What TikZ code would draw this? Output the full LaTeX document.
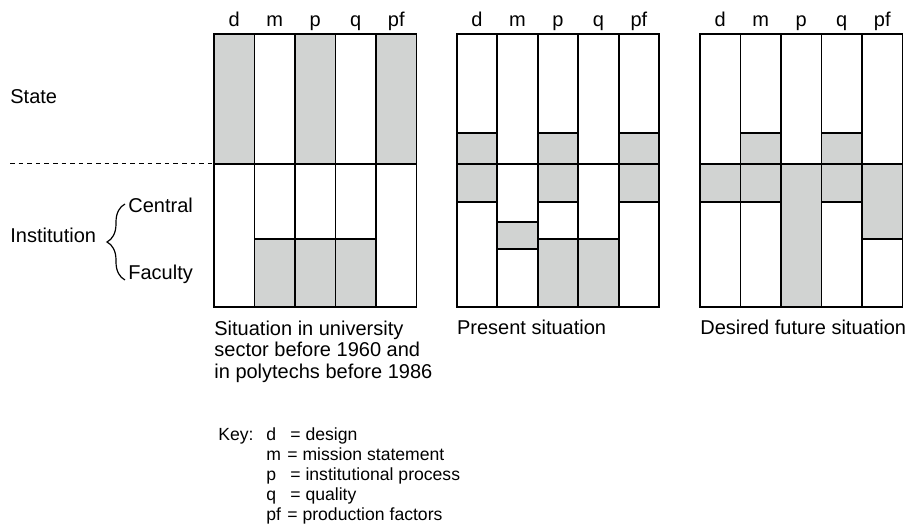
\documentclass[tikz,border=0pt]{standalone}
\usepackage{fontspec}
\setmainfont{Liberation Sans}
\usetikzlibrary{decorations.pathreplacing}
\definecolor{cellgray}{RGB}{209,211,210}

\begin{document}
\begin{tikzpicture}[x=0.5pt,y=-0.5pt,
    cell/.style={draw,line width=0.9pt},
    shaded/.style={fill=cellgray,draw,line width=0.9pt},
    lbl/.style={anchor=base west,inner sep=0pt,font=\fontsize{10}{10.8}\selectfont},
    keytext/.style={anchor=base west,inner sep=0pt,font=\fontsize{8.8}{10}\selectfont}]
  \useasboundingbox (0,0) rectangle (907,528);
  % shaded parts: panel / column / from / to
  \foreach \x/\c/\a/\b in {214/0/34.3/163.7, 214/2/34.3/163.7, 214/4/34.3/163.7,
      214/1/239.3/306.7, 214/2/239.3/306.7, 214/3/239.3/306.7,
      456.7/0/132.7/201.7, 456.7/2/132.7/201.7, 456.7/4/132.7/201.7,
      456.7/1/221.7/249, 456.7/2/239.3/306.7, 456.7/3/239.3/306.7,
      700/0/163.7/201.7, 700/1/132.7/201.7, 700/2/163.7/306.7,
      700/3/132.7/201.7, 700/4/163.7/239.3}
    \draw[shaded] (\x+40.5*\c,\a) rectangle (\x+40.5*\c+40.5,\b);
  % columns and headings
  \foreach \x/\p in {214/a,456.7/b,700/c} {
    \foreach \h [count=\i from 0] in {d,m,p,q,pf} {
      \draw[cell] (\x+40.5*\i,34.3) rectangle (\x+40.5*\i+40.5,306.7);
      \node[lbl,anchor=base] (\p\h) at (\x+40.5*\i+20.25,26.5) {\h};
    }
    \draw[cell] (\x,163.7) -- (\x+202.5,163.7);
  }
  \draw[line width=0.6pt,dash pattern=on 2.3pt off 2pt] (10,163.7) -- (214,163.7);
  \node[lbl] (state) at (10,104) {State};
  \node[lbl] (inst) at (10,243) {Institution};
  \node[lbl] (central) at (128,213) {Central};
  \node[lbl] (faculty) at (128,280) {Faculty};
  \draw[line width=0.6pt,decorate,decoration={brace,amplitude=9pt}] (125,280) -- (125,204);
  \node[lbl,align=left] (cap1) at (214,378.3) {Situation in university\\sector before 1960 and\\in polytechs before 1986};
  \node[lbl] (cap2) at (456.7,335) {Present situation};
  \node[lbl] (cap3) at (700,335) {Desired future situation};
  % key
  \node[keytext] (key) at (218,441) {Key:};
  \foreach \y/\k/\e/\t in {441/d/290/design, 461/m/287/mission statement,
      481/p/290/institutional process, 501/q/290/quality, 521/pf/287/production factors} {
    \node[keytext] (k\k) at (266,\y) {\k};
    \node[keytext] (t\k) at (\e,\y) {= \t};
  }
\end{tikzpicture}
\end{document}
